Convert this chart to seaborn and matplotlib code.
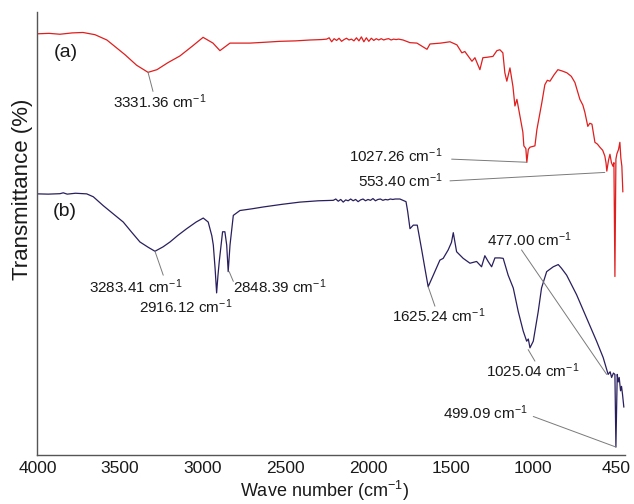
import matplotlib
matplotlib.use("Agg")
import matplotlib.pyplot as plt
import seaborn as sns
import pandas as pd

# FTIR spectra, wavenumber (cm-1) vs transmittance (arbitrary %, offset curves)
wn_a = [4000, 3930, 3864, 3790, 3725, 3652, 3580, 3471, 3400, 3331, 3277, 3210, 3138, 3060, 2998,
        2938, 2896, 2835, 2714, 2620, 2533, 2440, 2351, 2280,
        2250, 2235, 2220, 2205, 2190, 2175, 2160, 2145, 2130, 2115, 2100, 2085, 2070, 2055, 2040,
        2025, 2010, 1995, 1980, 1965, 1950, 1935, 1920, 1905, 1890, 1875, 1860, 1845, 1830, 1815,
        1788, 1746, 1704, 1643, 1625, 1560, 1504, 1462, 1432, 1414, 1371, 1353, 1323, 1305, 1280,
        1244, 1220, 1202, 1184, 1172, 1160, 1141, 1123, 1111, 1099, 1081, 1063, 1057, 1045, 1039,
        1030, 1020, 990, 978, 948, 930, 915, 899, 875, 851, 825, 797, 770, 748, 718, 700, 688,
        670, 658, 645, 627, 612, 597, 580, 567, 560, 555, 545, 536, 527, 518, 512, 506, 500,
        494, 484, 476, 470, 464, 458]
t_a = [95.1, 95.2, 95.0, 95.3, 95.4, 94.9, 93.7, 90.4, 88.0, 86.4, 87.0, 88.6, 90.1, 92.4, 94.3,
       93.0, 91.3, 93.0, 93.0, 93.2, 93.4, 93.5, 93.7, 93.8,
       93.9, 94.2, 93.3, 94.0, 93.6, 94.1, 93.4, 93.8, 94.1, 93.7, 93.9, 93.5, 94.2, 93.5, 94.4,
       93.3, 94.2, 93.4, 94.1, 93.6, 94.0, 93.7, 94.0, 93.7, 93.9, 94.0, 93.7, 93.9, 93.8, 93.9,
       93.7, 93.1, 93.0, 91.6, 92.8, 93.0, 93.3, 92.6, 90.8, 91.1, 88.9, 89.7, 87.0, 89.7, 89.8,
       90.0, 91.3, 91.5, 90.8, 86.3, 84.4, 87.4, 83.2, 78.8, 80.3, 76.6, 72.9, 69.8, 69.2, 66.1,
       69.0, 69.5, 69.8, 73.5, 79.6, 83.6, 84.6, 84.4, 85.8, 87.0, 86.7, 86.3, 85.5, 84.1, 80.3,
       79.0, 77.4, 74.2, 74.9, 74.7, 70.6, 70.2, 69.5, 68.8, 67.5, 66.0, 64.1, 66.5, 67.9, 66.0,
       65.2, 66.0, 40.3, 66.8, 68.0, 69.0, 70.6, 67.0, 65.2, 59.4]

wn_b = [4000, 3935, 3864, 3844, 3820, 3770, 3702, 3662, 3602, 3540, 3481, 3430, 3380, 3330, 3289,
        3240, 3198, 3150, 3097, 3040, 2997, 2967, 2945, 2936, 2925, 2916, 2908, 2900, 2880, 2866,
        2855, 2846, 2835, 2815, 2775, 2700, 2634, 2520, 2412, 2300,
        2210, 2195, 2180, 2165, 2150, 2135, 2120, 2105, 2090, 2075, 2060, 2045, 2030, 2015, 2000,
        1985, 1970, 1955, 1940, 1925, 1910, 1895, 1880, 1865, 1850, 1835, 1820,
        1807, 1770, 1760, 1746, 1726, 1702, 1675, 1655, 1636, 1605, 1565, 1545, 1515, 1495, 1484,
        1464, 1424, 1383, 1343, 1313, 1293, 1273, 1252, 1232, 1202, 1182, 1152, 1121, 1091, 1061,
        1040, 1030, 1020, 1000, 970, 950, 919, 879, 849, 830, 798, 738, 677, 617, 577, 547, 535,
        526, 515, 506, 500, 492, 486, 480, 472, 466, 460, 452]
t_b = [58.96, 58.9, 59.0, 59.2, 58.9, 59.1, 58.96, 58.3, 56.3, 54.4, 52.6, 50.3, 48.1, 46.9, 46.0,
       47.0, 48.1, 49.6, 51.1, 52.6, 53.5, 52.6, 49.5, 47.4, 42.0, 36.6, 40.5, 43.7, 50.4, 50.4,
       47.4, 41.4, 47.4, 54.1, 55.2, 55.6, 56.0, 56.6, 57.1, 57.4,
       57.5, 57.8, 57.3, 57.7, 57.1, 57.6, 57.4, 57.8, 57.4, 57.7, 57.2, 57.6, 57.8, 57.4, 57.7,
       57.5, 57.9, 57.4, 57.7, 57.8, 57.5, 57.7, 57.6, 57.8, 57.7, 57.8, 57.8,
       57.8, 57.2, 55.0, 51.1, 51.9, 51.9, 46.3, 42.0, 38.0, 40.6, 44.0, 44.4, 46.3, 48.0, 50.2,
       45.9, 44.4, 43.3, 43.7, 42.5, 45.0, 43.7, 42.5, 44.5, 44.5, 44.4, 40.6, 37.7, 32.4, 28.0,
       25.7, 26.2, 24.2, 25.7, 32.4, 37.7, 41.4, 42.5, 43.0, 42.2, 40.6, 36.2, 30.9, 25.7, 22.0,
       18.2, 18.8, 17.5, 18.5, 18.2, 1.8, 18.2, 16.5, 17.5, 14.5, 15.5, 13.7, 10.8]

xtick_pos = [4000, 3500, 3000, 2500, 2000, 1500, 1000, 500]
xtick_labels = ['4000', '3500', '3000', '2500', '2000', '1500', '1000', '450']

# peak labels: text, peak point, leader end, text position, alignment
peak_labels = ['3331.36', '1027.26', '553.40', '3283.41', '2916.12', '2848.39',
               '1625.24', '477.00', '1025.04', '499.09']
peak_xy = [(3331, 86.4), (1039, 66.1), (567, 63.8), (3289, 46.0), None, (2840, 41.4),
           (1636, 38.0), (556, 18.2), (1031, 23.8), (500, 1.8)]
leader_end = [(3301, 82.1), (1494, 66.8), (1504, 61.9), (3239, 40.6), None, (2815, 39.2),
              (1595, 33.6), (1071, 46.3), (990, 21.2), (1000, 8.7)]
text_xy = [(3259, 79.8), (1547, 67.5), (1547, 61.9), (3404, 37.9), (3105, 33.4), (2817, 38.1),
           (1571, 31.4), (1020, 48.5), (1005, 19.1), (1287, 9.6)]
text_ha = ['center', 'right', 'right', 'center', 'center', 'left',
           'center', 'center', 'center', 'center']

df_a = pd.DataFrame({'wn': wn_a, 't': t_a})
df_b = pd.DataFrame({'wn': wn_b, 't': t_b})

sns.set_style('white')
plt.rcParams['font.family'] = ['Liberation Sans', 'DejaVu Sans']
plt.rcParams['mathtext.fontset'] = 'custom'
plt.rcParams['mathtext.rm'] = 'Liberation Sans'
plt.rcParams['mathtext.default'] = 'regular'

fig = plt.figure(figsize=(6.34, 5.04), dpi=100)
ax = fig.add_axes([0.0591, 0.0972, 0.9267, 0.8788])

sns.lineplot(data=df_a, x='wn', y='t', sort=False, estimator=None, color='#e01e1e', lw=0.9, ax=ax)
sns.lineplot(data=df_b, x='wn', y='t', sort=False, estimator=None, color='#2a1f5e', lw=0.9, ax=ax)

ax.set_xlim(4000, 445)
ax.set_ylim(0, 100)
ax.set_xticks(xtick_pos)
ax.set_xticklabels(xtick_labels)
ax.set_yticks([])
ax.tick_params(axis='x', direction='out', length=4, width=0.8, color='#555555',
               labelsize=12.5, pad=0.5, labelcolor='#1a1a1a')
for s in ['top', 'right']:
    ax.spines[s].set_visible(False)
for s in ['left', 'bottom']:
    ax.spines[s].set_color('#555555')
    ax.spines[s].set_linewidth(1.0)

ax.set_xlabel('Wave number (cm$^{-1}$)', fontsize=13, color='#1a1a1a', va='bottom')
ax.xaxis.set_label_coords(0.488, -0.109)
ax.set_ylabel('Transmittance (%)', fontsize=16, color='#1a1a1a')
ax.yaxis.set_label_coords(-0.008, 0.60)

ax.text(3830, 90.8, '(a)', fontsize=14, ha='center', va='center', color='#1a1a1a')
ax.text(3834, 54.9, '(b)', fontsize=14, ha='center', va='center', color='#1a1a1a')

for lab, pxy, lend, txy, ha in zip(peak_labels, peak_xy, leader_end, text_xy, text_ha):
    if pxy is not None:
        ax.annotate('', xy=pxy, xytext=lend,
                    arrowprops=dict(arrowstyle='-', color='#7a7a7a', lw=0.7,
                                    shrinkA=0, shrinkB=0))
    ax.text(txy[0], txy[1], lab + ' cm$^{-1}$', fontsize=11, ha=ha, va='center',
            color='#1a1a1a')

plt.savefig('out.png', dpi=100)
